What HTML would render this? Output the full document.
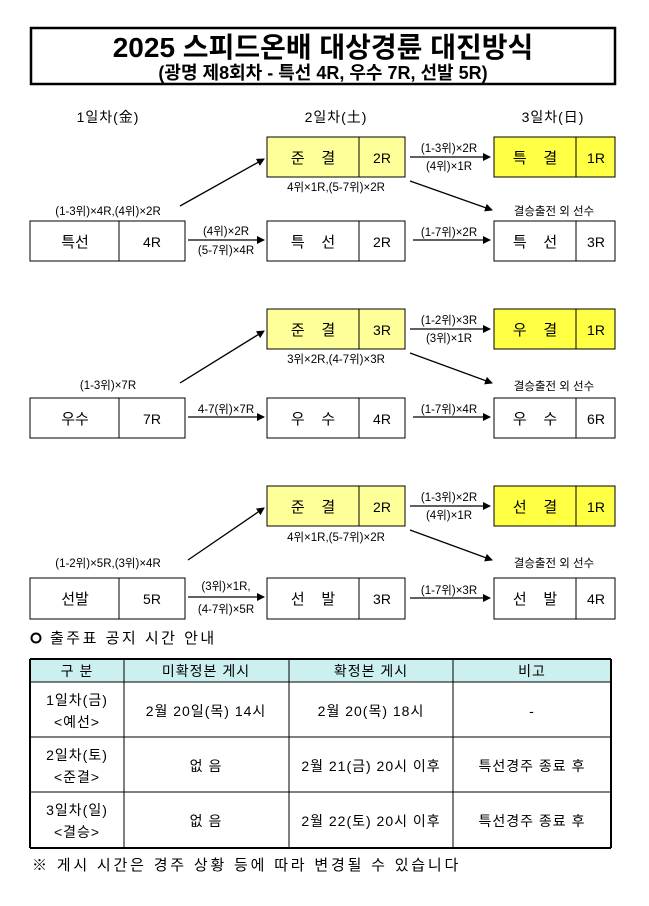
<!DOCTYPE html>
<html><head><meta charset="utf-8"><style>
body{margin:0;background:#fff;width:649px;height:901px;overflow:hidden}
svg text{font-family:"Liberation Sans","Noto Sans CJK KR",sans-serif;fill:#000}
</style></head><body>
<svg width="649" height="901" viewBox="0 0 649 901" xmlns="http://www.w3.org/2000/svg">
<defs><marker id="a" markerWidth="8" markerHeight="8" refX="7" refY="4" orient="auto" markerUnits="userSpaceOnUse"><path d="M0,0 L8,4 L0,8 z" fill="#000"/></marker></defs>
<rect x="31" y="28" width="584" height="56" fill="#fff" stroke="#000" stroke-width="2.5"/>
<text x="323" y="57" font-size="28" font-weight="bold" text-anchor="middle">2025 스피드온배 대상경륜 대진방식</text>
<text x="323" y="79" font-size="18" font-weight="bold" text-anchor="middle">(광명 제8회차 - 특선 4R, 우수 7R, 선발 5R)</text>
<g font-size="14" text-anchor="middle" letter-spacing="1">
<text x="108" y="122">1일차(金)</text><text x="336" y="122">2일차(土)</text><text x="553" y="122">3일차(日)</text>
</g>
<g font-size="15" text-anchor="middle">
<rect x="267" y="137" width="138" height="40" fill="#ffff99" stroke="#000"/><line x1="359" y1="137" x2="359" y2="177" stroke="#000"/>
<text x="313" y="163">준&#160;&#160;&#160;&#160;결</text><text x="382" y="163" font-size="14">2R</text>
<rect x="494" y="137" width="121" height="40" fill="#ffff44" stroke="#000"/><line x1="576" y1="137" x2="576" y2="177" stroke="#000"/>
<text x="535" y="163">특&#160;&#160;&#160;&#160;결</text><text x="596" y="163" font-size="14">1R</text>
<rect x="30" y="221" width="155" height="40" fill="#fff" stroke="#000"/><line x1="119" y1="221" x2="119" y2="261" stroke="#000"/>
<text x="75" y="247">특선</text><text x="152" y="247" font-size="14">4R</text>
<rect x="267" y="221" width="138" height="40" fill="#fff" stroke="#000"/><line x1="359" y1="221" x2="359" y2="261" stroke="#000"/>
<text x="313" y="247">특&#160;&#160;&#160;&#160;선</text><text x="382" y="247" font-size="14">2R</text>
<rect x="494" y="221" width="121" height="40" fill="#fff" stroke="#000"/><line x1="576" y1="221" x2="576" y2="261" stroke="#000"/>
<text x="535" y="247">특&#160;&#160;&#160;&#160;선</text><text x="596" y="247" font-size="14">3R</text>
<rect x="267" y="309" width="138" height="40" fill="#ffff99" stroke="#000"/><line x1="359" y1="309" x2="359" y2="349" stroke="#000"/>
<text x="313" y="335">준&#160;&#160;&#160;&#160;결</text><text x="382" y="335" font-size="14">3R</text>
<rect x="494" y="309" width="121" height="40" fill="#ffff44" stroke="#000"/><line x1="576" y1="309" x2="576" y2="349" stroke="#000"/>
<text x="535" y="335">우&#160;&#160;&#160;&#160;결</text><text x="596" y="335" font-size="14">1R</text>
<rect x="30" y="398" width="155" height="40" fill="#fff" stroke="#000"/><line x1="119" y1="398" x2="119" y2="438" stroke="#000"/>
<text x="75" y="424">우수</text><text x="152" y="424" font-size="14">7R</text>
<rect x="267" y="398" width="138" height="40" fill="#fff" stroke="#000"/><line x1="359" y1="398" x2="359" y2="438" stroke="#000"/>
<text x="313" y="424">우&#160;&#160;&#160;&#160;수</text><text x="382" y="424" font-size="14">4R</text>
<rect x="494" y="398" width="121" height="40" fill="#fff" stroke="#000"/><line x1="576" y1="398" x2="576" y2="438" stroke="#000"/>
<text x="535" y="424">우&#160;&#160;&#160;&#160;수</text><text x="596" y="424" font-size="14">6R</text>
<rect x="267" y="486" width="138" height="40" fill="#ffff99" stroke="#000"/><line x1="359" y1="486" x2="359" y2="526" stroke="#000"/>
<text x="313" y="512">준&#160;&#160;&#160;&#160;결</text><text x="382" y="512" font-size="14">2R</text>
<rect x="494" y="486" width="121" height="40" fill="#ffff44" stroke="#000"/><line x1="576" y1="486" x2="576" y2="526" stroke="#000"/>
<text x="535" y="512">선&#160;&#160;&#160;&#160;결</text><text x="596" y="512" font-size="14">1R</text>
<rect x="30" y="578" width="155" height="41" fill="#fff" stroke="#000"/><line x1="119" y1="578" x2="119" y2="619" stroke="#000"/>
<text x="75" y="604">선발</text><text x="152" y="604" font-size="14">5R</text>
<rect x="267" y="578" width="138" height="41" fill="#fff" stroke="#000"/><line x1="359" y1="578" x2="359" y2="619" stroke="#000"/>
<text x="313" y="604">선&#160;&#160;&#160;&#160;발</text><text x="382" y="604" font-size="14">3R</text>
<rect x="494" y="578" width="121" height="41" fill="#fff" stroke="#000"/><line x1="576" y1="578" x2="576" y2="619" stroke="#000"/>
<text x="535" y="604">선&#160;&#160;&#160;&#160;발</text><text x="596" y="604" font-size="14">4R</text>
</g>
<g stroke="#000" stroke-width="1.3" marker-end="url(#a)">
<line x1="180" y1="206" x2="264" y2="159"/><line x1="188" y1="240" x2="264" y2="240"/><line x1="410" y1="157" x2="490" y2="157"/><line x1="410" y1="181" x2="492" y2="210"/><line x1="413" y1="240" x2="490" y2="240"/>
<line x1="180" y1="383" x2="264" y2="331"/><line x1="188" y1="417" x2="264" y2="417"/><line x1="410" y1="329" x2="490" y2="329"/><line x1="410" y1="353" x2="492" y2="383"/><line x1="413" y1="417" x2="490" y2="417"/>
<line x1="188" y1="560" x2="264" y2="508"/><line x1="188" y1="597" x2="264" y2="597"/><line x1="410" y1="506" x2="490" y2="506"/><line x1="410" y1="530" x2="492" y2="560"/><line x1="410" y1="598" x2="490" y2="598"/>
</g>
<g font-size="11.5" text-anchor="middle">
<text x="108" y="215">(1-3위)×4R,(4위)×2R</text>
<text x="226" y="235">(4위)×2R</text><text x="226" y="254">(5-7위)×4R</text>
<text x="336" y="191">4위×1R,(5-7위)×2R</text>
<text x="449" y="152">(1-3위)×2R</text><text x="449" y="170">(4위)×1R</text>
<text x="449" y="236">(1-7위)×2R</text>
<text x="554" y="215">결승출전 외 선수</text>
<text x="108" y="389">(1-3위)×7R</text>
<text x="226" y="413">4-7(위)×7R</text>
<text x="336" y="363">3위×2R,(4-7위)×3R</text>
<text x="449" y="324">(1-2위)×3R</text><text x="449" y="342">(3위)×1R</text>
<text x="449" y="413">(1-7위)×4R</text>
<text x="554" y="390">결승출전 외 선수</text>
<text x="108" y="567">(1-2위)×5R,(3위)×4R</text>
<text x="226" y="590">(3위)×1R,</text><text x="226" y="613">(4-7위)×5R</text>
<text x="336" y="541">4위×1R,(5-7위)×2R</text>
<text x="449" y="501">(1-3위)×2R</text><text x="449" y="519">(4위)×1R</text>
<text x="449" y="594">(1-7위)×3R</text>
<text x="554" y="567">결승출전 외 선수</text>
</g>
<circle cx="36" cy="638" r="4.5" fill="none" stroke="#000" stroke-width="2"/>
<text x="50" y="643" font-size="15" letter-spacing="2.5">출주표 공지 시간 안내</text>
<rect x="30" y="659" width="581" height="23" fill="#ccf0f0"/>
<g stroke="#000" stroke-width="1">
<line x1="30" y1="659" x2="611" y2="659" stroke-width="2"/><line x1="30" y1="848" x2="611" y2="848" stroke-width="2"/>
<line x1="30" y1="659" x2="30" y2="848" stroke-width="2"/><line x1="611" y1="659" x2="611" y2="848" stroke-width="2"/>
<line x1="30" y1="682" x2="611" y2="682"/><line x1="30" y1="737" x2="611" y2="737"/><line x1="30" y1="792" x2="611" y2="792"/>
<line x1="124" y1="659" x2="124" y2="848"/><line x1="289" y1="659" x2="289" y2="848"/><line x1="453" y1="659" x2="453" y2="848"/>
</g>
<g font-size="14" text-anchor="middle" letter-spacing="1">
<text x="77" y="676">구 분</text><text x="206" y="676">미확정본 게시</text><text x="371" y="676">확정본 게시</text><text x="532" y="676">비고</text>
<text x="77" y="705">1일차(금)</text><text x="77" y="727">&lt;예선&gt;</text>
<text x="206" y="716">2월 20일(목) 14시</text><text x="371" y="716">2월 20(목) 18시</text><text x="532" y="716">-</text>
<text x="77" y="760">2일차(토)</text><text x="77" y="782">&lt;준결&gt;</text>
<text x="206" y="771">없 음</text><text x="371" y="771">2월 21(금) 20시 이후</text><text x="532" y="771">특선경주 종료 후</text>
<text x="77" y="815">3일차(일)</text><text x="77" y="837">&lt;결승&gt;</text>
<text x="206" y="826">없 음</text><text x="371" y="826">2월 22(토) 20시 이후</text><text x="532" y="826">특선경주 종료 후</text>
</g>
<text x="32" y="870" font-size="15" letter-spacing="2.8">※ 게시 시간은 경주 상황 등에 따라 변경될 수 있습니다</text>
</svg>
</body></html>
